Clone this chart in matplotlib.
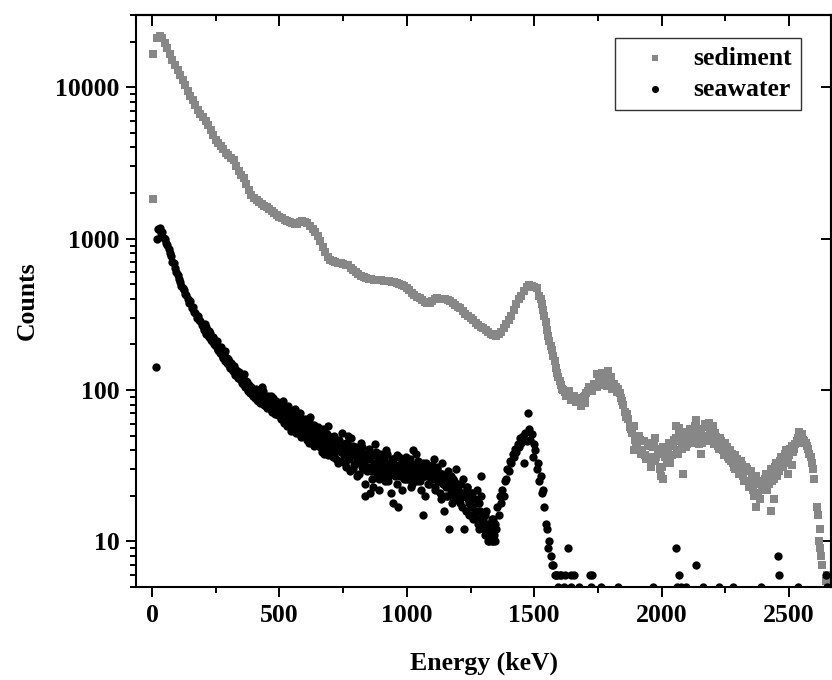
import numpy as np
import matplotlib
matplotlib.use("Agg")
import matplotlib.pyplot as plt
from matplotlib.ticker import MultipleLocator, LogLocator, NullFormatter

plt.rcParams['font.family'] = ['Liberation Serif', 'DejaVu Serif']
plt.rcParams['font.weight'] = 'bold'

# sediment spectrum, one value every 10 keV from 20 to 2620 keV
sed_energy = np.arange(20, 2621, 10)
sed_counts = [
    21000, 21800, 21200, 19700, 18300, 16600, 15200, 14000, 12900, 12000,
    11200, 10300, 9450, 8800, 8200, 7600, 7100, 6700, 6340, 5950,
    5600, 5250, 4850, 4500, 4300, 4100, 3900, 3700, 3550, 3400,
    3300, 3000, 2800, 2650, 2500, 2280, 2100, 1950, 1860, 1800,
    1740, 1700, 1650, 1610, 1580, 1530, 1480, 1440, 1400, 1360,
    1330, 1300, 1280, 1260, 1250, 1255, 1285, 1300, 1290, 1260,
    1210, 1160, 1100, 1040, 960, 885, 810, 760, 720, 710,
    700, 695, 690, 680, 670, 665, 640, 620, 600, 580,
    565, 555, 550, 545, 540, 535, 532, 530, 530, 528,
    525, 522, 520, 516, 512, 505, 495, 485, 470, 455,
    440, 425, 412, 405, 392, 380, 373, 378, 390, 400,
    403, 402, 400, 397, 393, 390, 378, 365, 355, 346,
    332, 320, 308, 297, 288, 278, 270, 262, 255, 248,
    242, 236, 230, 228, 234, 242, 258, 275, 292, 308,
    340, 370, 398, 420, 450, 480, 492, 490, 480, 470,
    420, 370, 310, 250, 210, 185, 155, 130, 115, 102,
    97, 94, 91, 89, 88, 86, 85, 86, 92, 98,
    102, 105, 108, 110, 112, 113, 112, 110, 108, 106,
    105, 102, 88, 80, 66, 64, 55, 58, 44, 50,
    38, 46, 35, 43, 33, 44, 36, 41, 31, 39,
    34, 45, 37, 47, 40, 52, 41, 50, 44, 55,
    46, 58, 49, 53, 45, 60, 50, 55, 47, 52,
    43, 48, 40, 45, 36, 40, 33, 37, 30, 34,
    27, 31, 25, 29, 22, 27, 21, 25, 22, 28,
    24, 30, 26, 33, 29, 36, 33, 40, 37, 43,
    41, 46, 47, 51, 46, 43, 38, 33, 26, 17,
    12,
]
# in-between sediment channels in the noisy tail, 1525 to 2595 keV
sed2_energy = np.arange(1525, 2596, 10)
sed2_counts = [
    400, 340, 280, 228, 195, 168, 140, 122, 108, 100,
    92, 98, 86, 92, 83, 88, 82, 90, 95, 104,
    99, 110, 104, 116, 108, 118, 106, 115, 102, 110,
    97, 95,
    84, 72, 69, 57, 52, 47, 42, 47, 40, 37,
    45, 36, 42, 34, 38, 30, 42, 36, 40, 33,
    43, 48, 38, 46, 53, 42, 50, 45, 52, 56,
    44, 55, 48, 57, 46, 50, 44, 49, 41, 46,
    37, 42, 35, 38, 31, 35, 28, 32, 25, 30,
    23, 26, 20, 24, 19, 23, 26, 22, 27, 25,
    31, 27, 34, 31, 38, 35, 41, 39, 44, 48,
    50, 47, 45, 41, 36, 30,
]
# scattered sediment points off the main band
sed_extra_e = [5, 5, 1682, 1700, 1745, 1765, 1789, 1800, 1891, 1957, 1975, 1997,
               2005, 2056, 2068, 2083, 2134, 2154, 2185, 2200, 2272, 2290, 2362,
               2370, 2429, 2440, 2496, 2510, 2539, 2555, 2614, 2618, 2622, 2626,
               2630, 2645, 2650]
sed_extra_c = [16500, 1820, 78, 82, 128, 130, 134, 122, 40, 31, 48, 27,
               26, 58, 56, 28, 63, 38, 61, 58, 34, 30, 20,
               17, 16, 19, 28, 32, 53, 45, 15, 10, 9, 8,
               7, 5.5, 6]

# seawater spectrum, one value every 5 keV from 20 to 1600 keV
sea_energy = np.arange(20, 1601, 5)
sea_counts = [
    1000, 1150, 1180, 1090, 1110, 1010, 990, 940, 905, 860,
    800, 770, 700, 690, 640, 600, 575, 540, 520, 490,
    470, 455, 430, 425, 400, 375, 390, 350, 355, 330,
    325, 300, 310, 290, 285, 270, 265, 250, 262, 240,
    230, 245, 220, 212, 225, 200, 195, 210, 185, 178,
    192, 170, 165, 180, 158, 150, 160, 142, 150, 138,
    145, 130, 136, 125, 132, 118, 122, 112, 128, 105,
    115, 100, 108, 96, 104, 92, 100, 88, 97, 85,
    94, 82, 90, 99, 80, 87, 76, 92, 78, 84,
    72, 88, 74, 70, 82, 68, 78, 64, 70, 85,
    62, 72, 58, 76, 66, 54, 68, 60, 75, 52,
    63, 57, 70, 49, 61, 55, 64, 50, 58, 45,
    66, 53, 48, 59, 51, 44, 57, 49, 42, 54,
    47, 38, 52, 45, 58, 41, 48, 43, 36, 50,
    40, 46, 33, 44, 39, 52, 42, 37, 31, 45,
    50, 35, 48, 38, 30, 42, 36, 27, 40, 34,
    45, 31, 38, 20, 35, 29, 41, 21, 37, 26,
    32, 44, 30, 35, 22, 38, 31, 27, 36, 30,
    40, 25, 33, 29, 35, 18, 31, 28, 37, 17,
    32, 27, 34, 30, 26, 36, 30, 26, 33, 28,
    24, 40, 29, 31, 25, 34, 28, 22, 30, 15,
    27, 33, 29, 24, 31, 26, 28, 35, 23, 27,
    30, 25, 21, 28, 33, 16, 26, 20, 29, 12,
    23, 27, 21, 25, 19, 30, 22, 24, 18, 21,
    26, 12, 20, 23, 19, 15, 21, 17, 14, 19,
    16, 22, 13, 18, 27, 15, 14, 11, 16, 12,
    10, 13, 11, 10, 14, 10, 12, 17, 15, 20,
    18, 22, 20, 25, 26, 30, 29, 34, 33, 38,
    36, 41, 39, 44, 42, 48, 45, 50, 33, 52,
    46, 70, 55, 47, 51, 36, 44, 40, 30, 33,
    25, 27, 21, 22, 17, 13, 12, 9, 10, 8,
    7, 7, 6, 6, 6, 5, 6,
]
# in-between seawater channels, 202.5 to 1347.5 keV
sea2_energy = np.arange(202.5, 1350, 5)
sea2_counts = [
    255, 272, 236, 248, 225, 238, 214, 220, 205, 198,
    202, 185, 190, 176, 181, 163, 170, 156, 162, 148,
    155, 140, 147, 133, 139, 126, 134, 120, 127, 116,
    124, 110, 117, 105, 113, 99, 107, 95, 102, 92,
    92, 101, 86, 95, 83, 90, 104, 81, 88, 79,
    86, 77, 83, 91, 73, 80, 69, 84, 75, 71,
    67, 80, 71, 61, 74, 65, 79, 58, 69, 63,
    59, 71, 56, 65, 53, 67, 60, 51, 62, 55,
    61, 47, 55, 63, 46, 52, 58, 43, 56, 48,
    53, 44, 49, 39, 55, 46, 42, 51, 37, 47,
    43, 49, 38, 46, 35, 42, 47, 34, 40, 44,
    39, 33, 45, 36, 41, 29, 38, 43, 32, 37,
    33, 39, 28, 36, 42, 30, 34, 24, 38, 31,
    35, 29, 37, 23, 33, 39, 28, 32, 26, 36,
    29, 34, 25, 31, 38, 27, 33, 21, 30, 35,
    27, 32, 24, 36, 29, 31, 22, 28, 33, 26,
    31, 27, 35, 23, 29, 32, 26, 38, 28, 30,
    25, 30, 33, 27, 20, 29, 31, 24, 28, 32,
    26, 29, 22, 31, 25, 27, 19, 28, 24, 26,
    23, 27, 20, 25, 22, 18, 26, 21, 24, 19,
    22, 19, 24, 17, 21, 20, 16, 23, 18, 20,
    17, 21, 15, 19, 14, 18, 12, 16, 20, 13,
    12, 15, 11, 13, 10, 12, 14, 10, 11, 13,
]
# low count seawater points and the first channel
sea_extra_e = [15, 1605, 1616, 1620, 1631, 1643, 1645, 1655, 1675, 1718, 1722,
               1728, 1761, 1828, 1965, 2056, 2060, 2068, 2075, 2095, 2134, 2162,
               2225, 2280, 2390, 2457, 2461, 2535, 2645, 2650]
sea_extra_c = [143, 6, 5, 6, 9, 5, 6, 6, 5, 6, 5,
               6, 5, 5, 5, 9, 5, 6, 5, 5, 7, 5,
               5, 5, 5, 8, 6, 5, 6, 5]

fig = plt.figure(figsize=(8.32, 6.8), dpi=100)
ax = fig.add_axes([136/832, 1-587/680, 695/832, 572/680])

grey = '#878787'
sq = 32
dot = 36
ax.scatter(sed_energy, sed_counts, marker='s', s=sq, color=grey, linewidths=0, label='sediment')
ax.scatter(sed2_energy, sed2_counts, marker='s', s=sq, color=grey, linewidths=0)
ax.scatter(sed_extra_e, sed_extra_c, marker='s', s=sq, color=grey, linewidths=0)
ax.scatter(sea_energy, sea_counts, marker='o', s=dot, color='black', linewidths=0, label='seawater')
ax.scatter(sea2_energy, sea2_counts, marker='o', s=dot, color='black', linewidths=0)
ax.scatter(sea_extra_e, sea_extra_c, marker='o', s=dot, color='black', linewidths=0)

ax.set_yscale('log')
ax.set_xlim(-63, 2665)
ax.set_ylim(5, 30000)

ax.set_xticks([0, 500, 1000, 1500, 2000, 2500])
ax.xaxis.set_minor_locator(MultipleLocator(250))
ax.set_yticks([10, 100, 1000, 10000])
ax.set_yticklabels(['10', '100', '1000', '10000'])
ax.yaxis.set_minor_locator(LogLocator(base=10, subs=np.arange(2, 10)))
ax.yaxis.set_minor_formatter(NullFormatter())

ax.tick_params(which='major', direction='out', length=7, width=1.4, labelsize=18.5, pad=5)
ax.tick_params(which='minor', direction='out', length=4, width=1.4)
for sp in ax.spines.values():
    sp.set_linewidth(1.5)

# top and right ticks point inward, no labels
top = ax.secondary_xaxis('top')
top.set_xticks([0, 500, 1000, 1500, 2000, 2500])
top.xaxis.set_minor_locator(MultipleLocator(250))
top.tick_params(which='major', direction='in', length=8, width=1.4, labeltop=False)
top.tick_params(which='minor', direction='in', length=4, width=1.4)
top.spines['top'].set_linewidth(1.5)

right = ax.secondary_yaxis('right')
right.set_yticks([10, 100, 1000, 10000])
right.yaxis.set_minor_locator(LogLocator(base=10, subs=[]))
right.tick_params(which='major', direction='in', length=7, width=1.4, labelright=False)
right.spines['right'].set_linewidth(1.5)

ax.set_xlabel('Energy (keV)', fontsize=18.5, fontweight='bold', labelpad=18)
ax.set_ylabel('Counts', fontsize=18.5, fontweight='bold', labelpad=12)

leg = ax.legend(loc='upper right', bbox_to_anchor=(0.957, 0.96), borderaxespad=0,
                fancybox=False, edgecolor='black', fontsize=18.5, handlelength=2.4,
                handletextpad=0.3, borderpad=0.35, labelspacing=0.32, markerscale=0.85)
leg.get_frame().set_linewidth(1.0)

fig.savefig('out.png', dpi=100)
